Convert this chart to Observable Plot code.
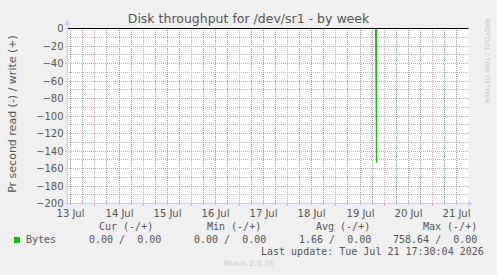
<!DOCTYPE html>
<html><head><meta charset="utf-8">
<script src="https://cdn.jsdelivr.net/npm/d3@7"></script>
<script src="https://cdn.jsdelivr.net/npm/@observablehq/plot@0.6"></script>
<style>
html,body{margin:0;padding:0;background:#f0f0f0;}
#wrap{position:relative;width:497px;height:275px;overflow:hidden;background:#f0f0f0;font-family:"DejaVu Sans",sans-serif;color:#555;}
#wrap svg{position:absolute;left:0;top:0;}
.t{position:absolute;white-space:pre;line-height:1;}
.mono{font-family:"DejaVu Sans Mono",monospace;font-size:10px;color:#555;}
</style></head><body><div id="wrap"></div>
<script>
// ---- data ----
const title = "Disk throughput for /dev/sr1 - by week";
const yLabel = "Pr second read (-) / write (+)";
const sideText = "RRDTOOL / TOBI OETIKER";
const footer = "Munin 2.0.76";
const timeDomain = ["2026-07-13T10:20:00Z", "2026-07-21T18:00:00Z"];
const readTimes = ["2026-07-13T10:20:00Z", "2026-07-19T19:50:00Z", "2026-07-19T20:05:00Z", "2026-07-19T20:20:00Z", "2026-07-21T18:00:00Z"];
const readValues = [0, 0, 153, 0, 0];
const yTicks = [0, -20, -40, -60, -80, -100, -120, -140, -160, -180, -200];
const yMinorTicks = [-10, -30, -50, -70, -90, -110, -130, -150, -170, -190];
const minorTimes = ["2026-07-13T12:00:00Z", "2026-07-13T18:00:00Z", "2026-07-14T06:00:00Z", "2026-07-14T12:00:00Z", "2026-07-14T18:00:00Z", "2026-07-15T06:00:00Z", "2026-07-15T12:00:00Z", "2026-07-15T18:00:00Z", "2026-07-16T06:00:00Z", "2026-07-16T12:00:00Z", "2026-07-16T18:00:00Z", "2026-07-17T06:00:00Z", "2026-07-17T12:00:00Z", "2026-07-17T18:00:00Z", "2026-07-18T06:00:00Z", "2026-07-18T12:00:00Z", "2026-07-18T18:00:00Z", "2026-07-19T06:00:00Z", "2026-07-19T12:00:00Z", "2026-07-19T18:00:00Z", "2026-07-20T06:00:00Z", "2026-07-20T12:00:00Z", "2026-07-20T18:00:00Z", "2026-07-21T06:00:00Z", "2026-07-21T12:00:00Z"];
const majorTimes = ["2026-07-14T00:00:00Z", "2026-07-15T00:00:00Z", "2026-07-16T00:00:00Z", "2026-07-17T00:00:00Z", "2026-07-18T00:00:00Z", "2026-07-19T00:00:00Z", "2026-07-20T00:00:00Z", "2026-07-21T00:00:00Z"];
const dayLabelDates = ["2026-07-13T12:00:00Z", "2026-07-14T12:00:00Z", "2026-07-15T12:00:00Z", "2026-07-16T12:00:00Z", "2026-07-17T12:00:00Z", "2026-07-18T12:00:00Z", "2026-07-19T12:00:00Z", "2026-07-20T12:00:00Z", "2026-07-21T12:00:00Z"];
const legendSeries = "Bytes";
const legendHeaders = ["Cur (-/+)", "Min (-/+)", "Avg (-/+)", "Max (-/+)"];
const legendValues = ["0.00 /  0.00", "0.00 /  0.00", "1.66 /  0.00", "758.64 /  0.00"];
const lastUpdate = "Last update: Tue Jul 21 17:30:04 2026";

// ---- derived ----
const x0 = new Date(timeDomain[0]), x1 = new Date(timeDomain[1]);
const minorX = minorTimes.map(d => new Date(d));
const majorX = majorTimes.map(d => new Date(d));
const labelX = dayLabelDates.map(d => new Date(d));
const series = readTimes.map((t, i) => ({t: new Date(t), v: -readValues[i]}));

const AXIS = "#c9d0f5", GRIDC = "#bdbdbd", VGRIDC = "#999999", MGRIDC = "#e6a0a0";

const decor = (index, scales, values, dims) => {
  const L = dims.marginLeft, B = dims.height - dims.marginBottom, R = dims.width - dims.marginRight, T = dims.marginTop;
  const g = d3.create("svg:g");
  g.append("line").attr("x1", L + 0.5).attr("x2", L + 0.5).attr("y1", B + 3).attr("y2", T - 4).attr("stroke", AXIS);
  g.append("line").attr("x1", L - 2).attr("x2", R).attr("y1", B + 0.5).attr("y2", B + 0.5).attr("stroke", AXIS);
  g.append("polygon").attr("points", `${L + 0.5},${T - 9} ${L - 2.5},${T - 3} ${L + 3.5},${T - 3}`).attr("fill", AXIS);
  g.append("polygon").attr("points", `${R + 5},${B + 0.5} ${R},${B - 2.5} ${R},${B + 3.5}`).attr("fill", AXIS);
  return g.node();
};

const chart = Plot.plot({
  width: 497, height: 275,
  marginLeft: 67, marginRight: 29, marginTop: 28, marginBottom: 72,
  style: {background: "transparent", fontFamily: "DejaVu Sans", fontSize: "10px", color: "#555"},
  x: {type: "utc", domain: [x0, x1], round: true},
  y: {domain: [-200, 0], round: true},
  marks: [
    Plot.frame({fill: "white", stroke: "none"}),
    Plot.ruleY(yMinorTicks, {stroke: GRIDC, strokeDasharray: "1,1"}),
    Plot.ruleX(minorX, {stroke: VGRIDC, strokeDasharray: "1,1"}),
    Plot.ruleX(majorX, {stroke: MGRIDC, strokeDasharray: "1,1"}),
    Plot.ruleY(yTicks, {stroke: MGRIDC, strokeDasharray: "1,1"}),
    Plot.axisY(yTicks, {tickSize: 2, tickPadding: 2, stroke: AXIS, label: null, fontSize: 10}),
    Plot.axisX(minorX, {tickSize: 2, stroke: GRIDC, tickFormat: () => "", label: null}),
    Plot.axisX(majorX, {tickSize: 3, stroke: MGRIDC, tickFormat: () => "", label: null}),
    Plot.axisX(labelX, {tickSize: 0, tickPadding: 6, tickFormat: d3.utcFormat("%d %b"), label: null, fontSize: 10}),
    Plot.line(series, {x: "t", y: "v", stroke: "#00cc00", strokeWidth: 1}),
    Plot.ruleY([0], {stroke: "#000"}),
    decor
  ]
});

const wrap = document.getElementById("wrap");
wrap.appendChild(chart);

function addText(txt, cls, css) {
  const d = document.createElement("div");
  d.className = "t " + (cls || "");
  d.textContent = txt;
  Object.assign(d.style, css);
  wrap.appendChild(d);
  return d;
}
addText(title, "", {left: "0px", width: "497px", textAlign: "center", top: "13px", fontSize: "12.5px", color: "#555"});
addText(yLabel, "", {left: "11.5px", top: "114px", width: "220px", textAlign: "center", fontSize: "11px", color: "#555", transform: "translate(-50%,-50%) rotate(-90deg)"});
addText(sideText, "", {left: "487px", top: "61px", width: "120px", textAlign: "center", fontSize: "6.6px", color: "#c4c4c4", transform: "translate(-50%,-50%) rotate(90deg)"});
addText(footer, "", {left: "0px", width: "497px", textAlign: "center", top: "260px", fontSize: "7.6px", color: "#cccccc"});

// legend
const headerX = [99, 207, 316, 423];
const valueX = [89, 194, 299, 393];
legendHeaders.forEach((h, i) => addText(h, "mono", {left: headerX[i] + "px", top: "222px"}));
const sw = document.createElement("div");
Object.assign(sw.style, {position: "absolute", left: "14px", top: "237px", width: "6px", height: "6px", background: "#00cc00"});
wrap.appendChild(sw);
addText(legendSeries, "mono", {left: "26px", top: "235px"});
legendValues.forEach((v, i) => addText(v, "mono", {left: valueX[i] + "px", top: "235px"}));
addText(lastUpdate, "mono", {left: "261px", top: "247px"});
</script></body></html>
